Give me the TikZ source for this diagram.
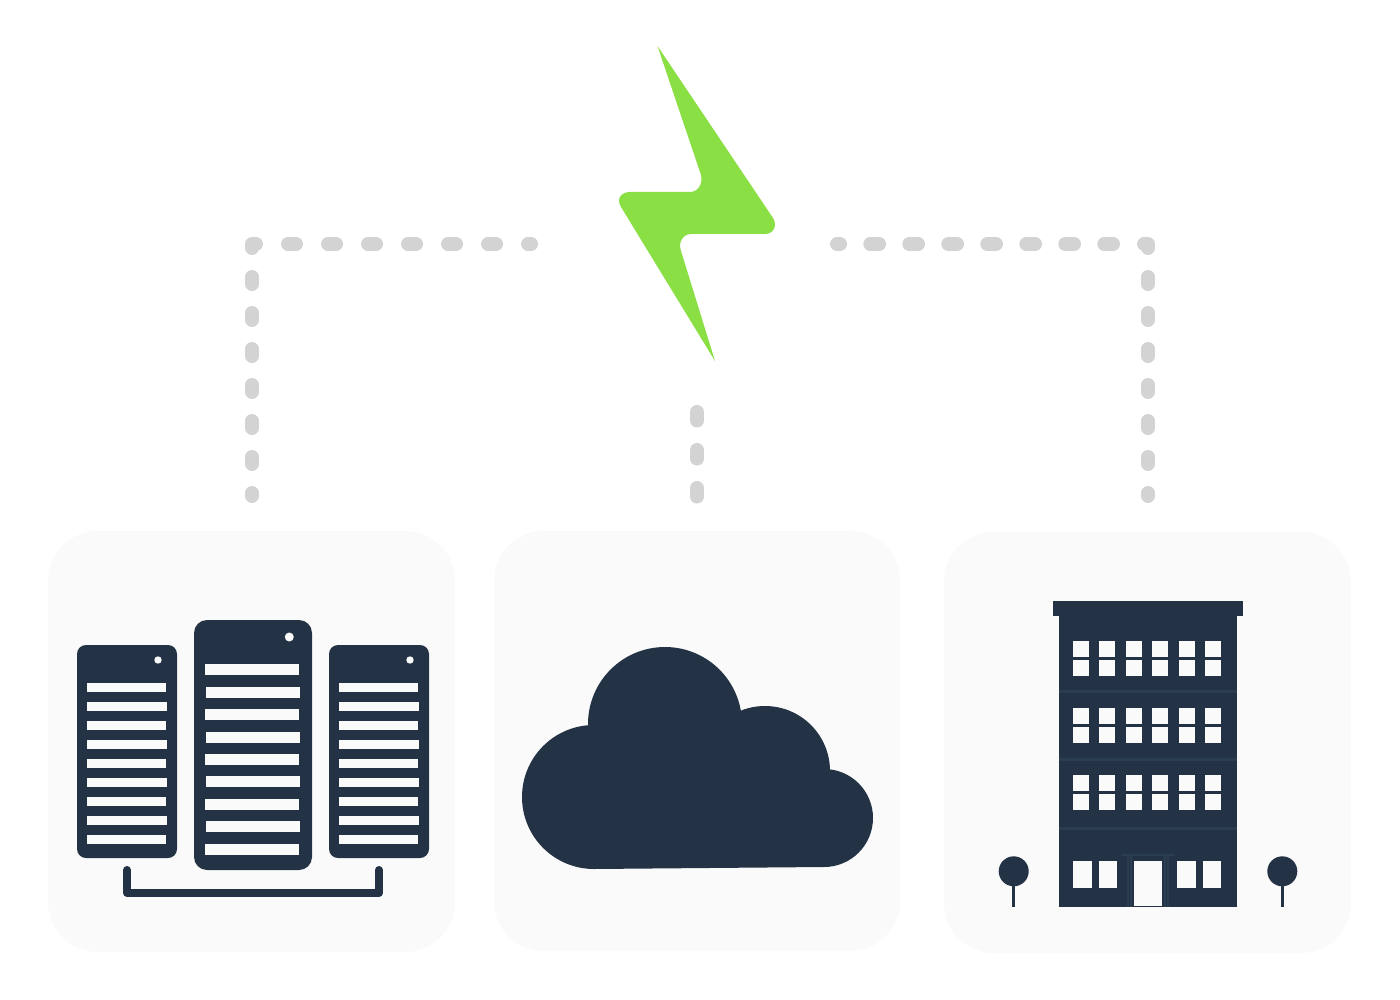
\documentclass[tikz,border=0pt]{standalone}
\definecolor{cBolt}{RGB}{138,223,69}
\definecolor{cDash}{RGB}{211,211,211}
\definecolor{cPanel}{RGB}{250,250,250}
\definecolor{cDark}{RGB}{35,51,69}
\definecolor{cTrim}{RGB}{43,62,81}

% one rack: x0,x1,y0,y1, corner radius, dot x,y,r, bar x0, bar width, first bar y, bar height, bar step
\newcommand{\rack}[9]{%
  \fill[cDark,rounded corners=#5] (#1,#3) rectangle (#2,#4);
  \fill[cPanel] #6 circle (#7);
  \foreach \n in {0,...,8}{
    \pgfmathsetmacro\off{mod(\n,2)*0.6}
    \pgfmathsetmacro\ya{#9+\n*\rackstep}
    \fill[cPanel] (#8+\off,\ya) rectangle ++(\rackw,\rackh);
  }
}

\begin{document}
\begin{tikzpicture}[
  x=1pt,y=-1pt,
  panel/.style  ={fill=cPanel, rounded corners=50pt},
  link/.style   ={draw=cDash, line width=14pt, line cap=round, line join=round},
  trim/.style   ={draw=cTrim, line width=1.5pt},
  pane/.style   ={fill=cPanel},
]
\useasboundingbox (0,0) rectangle (1400,1000);
\fill[white] (0,0) rectangle (1400,1000);

% ----- panels -----------------------------------------------------------
\fill[panel] (48,531)  rectangle (455,952);
\fill[panel] (494,531) rectangle (900,951);
\fill[panel] (944,532) rectangle (1351,953);

% ----- bolt -------------------------------------------------------------
\fill[cBolt] (657.5,46) -- (773,218) .. controls (778,226) and (773,234) .. (765,234)
  -- (691,234) .. controls (683,234) and (678,242) .. (681,251)
  -- (715,361) -- (621,207) .. controls (616,199) and (621,192) .. (630,192)
  -- (690,192) .. controls (698,192) and (703,184) .. (701,175) -- cycle;

% ----- dashed links -----------------------------------------------------
\coordinate (boltL)   at (531,244);
\coordinate (boltR)   at (837,244);
\coordinate (boltB)   at (697,412);
\coordinate (rackTop) at (252,496);
\coordinate (cloudTop) at (697,496.5);
\coordinate (bldgTop) at (1148,496);
\coordinate (cornerL) at (252,244);
\coordinate (cornerR) at (1148,244);

\draw[link,dash pattern=on 8pt off 32pt] (288,244) -- (boltL);
\draw[link] (252,248) -- (cornerL) -- (256,244);
\draw[link,dash pattern=on 7pt off 29pt] (252,277) -- (rackTop);

\draw[link,dash pattern=on 8.7pt off 30.3pt] (1113,244) -- (boltR);
\draw[link] (1144,244) -- (cornerR) -- (1148,248);
\draw[link,dash pattern=on 7pt off 29pt] (1148,277) -- (bldgTop);

\draw[link,dash pattern=on 8.5pt off 29.5pt] (boltB) -- (cloudTop);

% ----- racks ------------------------------------------------------------
\def\rackw{79.5}\def\rackh{9}\def\rackstep{19}
\rack{77}{177}{645}{858}{9pt}{(158,660)}{3.7}{86.8}{683}
\rack{329}{429}{645}{858}{9pt}{(410,660)}{3.7}{338.8}{683}
\def\rackw{94}\def\rackh{11}\def\rackstep{22.4}
\rack{194}{312}{620}{870}{13pt}{(289.3,637)}{4.5}{205.4}{664.3}
\draw[cDark,line width=8pt,line cap=round,line join=round]
      (127,870) -- (127,893) -- (379,893) -- (379,870);

% ----- cloud ------------------------------------------------------------
\fill[cDark] (665,724) circle (77);
\fill[cDark] (594,797) circle (72);
\fill[cDark] (765,771) circle (65);
\fill[cDark] (824,818) circle (49);
\fill[cDark] (594,869) -- (824,867) -- (824,770) -- (594,725) -- cycle;

% ----- building ---------------------------------------------------------
\fill[cDark] (1053,601) rectangle (1243,616);
\fill[cDark] (1059,616) rectangle (1237,907);
\foreach \yf in {691.7,759,828.7}
  \draw[cTrim,line width=3pt] (1059,\yf) -- (1237,\yf);

\foreach \yw in {641.3,660.3,708.3,727.3,775.3,794.3}
  \foreach \n in {0,...,5}
    \fill[pane] (1073+\n*26.4,\yw) rectangle ++(16,16);

\fill[pane] (1073.3,861.3) rectangle (1092,888.3);
\fill[pane] (1099,861.3)   rectangle (1117.3,888.3);
\fill[pane] (1177.3,861.3) rectangle (1196,888.3);
\fill[pane] (1202.7,861.3) rectangle (1221,888.3);

\fill[pane] (1134.3,861.3) rectangle (1162,906);
\draw[trim] (1121.7,855) -- (1174,855);
\foreach \xp in {1128,1131,1165,1168}
  \draw[trim] (\xp,855) -- (\xp,907);

% ----- trees ------------------------------------------------------------
\foreach \xt in {1013.7,1282.3}{
  \fill[cDark] (\xt,871.3) circle (15);
  \draw[cDark,line width=3pt] (\xt,880) -- (\xt,906.5);
}
\end{tikzpicture}
\end{document}
